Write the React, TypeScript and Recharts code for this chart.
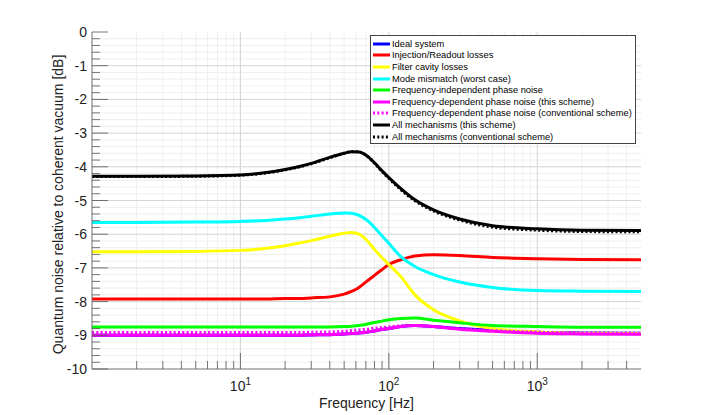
import { LineChart, Line, XAxis, YAxis, ReferenceLine, Legend } from 'recharts';

const FONT = '"Liberation Sans", Arial, Helvetica, sans-serif';

// frequency grid (Hz)
const FREQ = [1, 2, 5, 10, 15, 20, 25, 30, 40, 50, 56, 63, 71, 80, 90, 100, 120, 150, 200, 300, 500, 1000, 2000, 5000];

// quantum noise relative to coherent vacuum (dB)
const IDEAL = [-9.0, -9.0, -9.0, -9.0, -9.0, -9.0, -9.0, -8.99, -8.98, -8.96, -8.95, -8.93, -8.91, -8.87, -8.83, -8.8, -8.74, -8.71, -8.74, -8.8, -8.86, -8.91, -8.93, -8.94];
const INJECTION = [-7.92, -7.92, -7.92, -7.92, -7.92, -7.91, -7.91, -7.89, -7.86, -7.78, -7.7, -7.58, -7.4, -7.22, -7.05, -6.9, -6.76, -6.65, -6.61, -6.63, -6.69, -6.73, -6.75, -6.76];
const FILTER = [-6.52, -6.52, -6.51, -6.48, -6.42, -6.34, -6.26, -6.19, -6.06, -5.97, -5.95, -6.0, -6.18, -6.45, -6.7, -6.9, -7.25, -7.8, -8.24, -8.57, -8.8, -8.9, -8.94, -8.95];
const MISMATCH = [-5.65, -5.65, -5.64, -5.62, -5.59, -5.55, -5.51, -5.47, -5.4, -5.37, -5.38, -5.44, -5.58, -5.8, -6.05, -6.27, -6.66, -6.96, -7.2, -7.42, -7.58, -7.67, -7.69, -7.7];
const FI_PHASE = [-8.75, -8.75, -8.75, -8.75, -8.75, -8.75, -8.75, -8.75, -8.75, -8.74, -8.73, -8.71, -8.67, -8.62, -8.58, -8.54, -8.5, -8.49, -8.55, -8.63, -8.71, -8.74, -8.76, -8.76];
const FD_PHASE = [-9.0, -9.0, -9.0, -9.0, -9.0, -9.0, -9.0, -8.99, -8.98, -8.96, -8.95, -8.93, -8.91, -8.87, -8.83, -8.8, -8.74, -8.71, -8.74, -8.82, -8.88, -8.94, -8.96, -8.97];
const FD_PHASE_CONV = [-8.92, -8.92, -8.92, -8.92, -8.92, -8.92, -8.92, -8.91, -8.9, -8.88, -8.86, -8.84, -8.82, -8.79, -8.77, -8.75, -8.72, -8.71, -8.74, -8.8, -8.86, -8.91, -8.93, -8.94];
const ALL = [-4.28, -4.28, -4.27, -4.24, -4.17, -4.08, -3.99, -3.9, -3.72, -3.6, -3.55, -3.56, -3.67, -3.88, -4.12, -4.32, -4.64, -4.98, -5.28, -5.55, -5.75, -5.84, -5.88, -5.89];
const ALL_CONV = [-4.29, -4.29, -4.28, -4.25, -4.18, -4.09, -4.0, -3.91, -3.73, -3.6, -3.55, -3.56, -3.67, -3.89, -4.14, -4.34, -4.67, -5.01, -5.31, -5.58, -5.79, -5.88, -5.92, -5.93];

const X_MAJOR = [10, 100, 1000];
const X_MINOR = [2, 3, 4, 5, 6, 7, 8, 9, 20, 30, 40, 50, 60, 70, 80, 90, 200, 300, 400, 500, 600, 700, 800, 900, 2000, 3000, 4000];
const Y_MAJOR = [0, -1, -2, -3, -4, -5, -6, -7, -8, -9, -10];
const Y_MINOR: number[] = [];
for (let i = 1; i < 50; i++) if (i % 5 !== 0) Y_MINOR.push(-i / 5);

const X_TICKS = [...X_MINOR, ...X_MAJOR].sort((a, b) => a - b);
const Y_TICKS = [...Y_MAJOR, ...Y_MINOR];

const SERIES = [
  { key: 'ideal', name: 'Ideal system', values: IDEAL, color: '#0000ff', dotted: false },
  { key: 'inj', name: 'Injection/Readout losses', values: INJECTION, color: '#ff0000', dotted: false },
  { key: 'filter', name: 'Filter cavity losses', values: FILTER, color: '#ffff00', dotted: false },
  { key: 'mm', name: 'Mode mismatch (worst case)', values: MISMATCH, color: '#00ffff', dotted: false },
  { key: 'fi', name: 'Frequency-independent phase noise', values: FI_PHASE, color: '#00ff00', dotted: false },
  { key: 'fd', name: 'Frequency-dependent phase noise (this scheme)', values: FD_PHASE, color: '#ff00ff', dotted: false },
  { key: 'fdc', name: 'Frequency-dependent phase noise (conventional scheme)', values: FD_PHASE_CONV, color: '#ff00ff', dotted: true },
  { key: 'all', name: 'All mechanisms (this scheme)', values: ALL, color: '#000000', dotted: false },
  { key: 'allc', name: 'All mechanisms (conventional scheme)', values: ALL_CONV, color: '#000000', dotted: true },
];

const rows = FREQ.map((f, i) => {
  const row: Record<string, number> = { f };
  SERIES.forEach((s) => (row[s.key] = s.values[i]));
  return row;
});

const AXIS = '#6e6e6e';
const TICK = '#555';
const MAJOR_GRID = '#d4d4d4';
const MINOR_GRID = '#efefef';
const DOTS = '2 2.3';
const FS = 14;

const isMajorX = (v: number) => X_MAJOR.includes(v);
const isMajorY = (v: number) => Number.isInteger(v);

const BottomTick = ({ x, y, payload }: any) => {
  const v = payload.value;
  const major = isMajorX(v);
  return (
    <g>
      <line x1={x} x2={x} y1={y} y2={y - (major ? 16 : 8)} stroke={TICK} strokeWidth={0.8} />
      {major && (
        <text x={x} y={y + 22} textAnchor="middle" fontSize={FS} fontFamily={FONT} fill="#222">
          10<tspan dy={-6.5} fontSize={10}>{Math.round(Math.log10(v))}</tspan>
        </text>
      )}
    </g>
  );
};

const TopTick = ({ x, y, payload }: any) => {
  const major = isMajorX(payload.value);
  return <line x1={x} x2={x} y1={y} y2={y + (major ? 16 : 8)} stroke={TICK} strokeWidth={0.8} />;
};

const LeftTick = ({ x, y, payload }: any) => {
  const v = payload.value;
  const major = isMajorY(v);
  return (
    <g>
      <line x1={x} x2={x + (major ? 16 : 8)} y1={y} y2={y} stroke={TICK} strokeWidth={0.8} />
      {major && (
        <text x={x - 5} y={y + 5} textAnchor="end" fontSize={FS} fontFamily={FONT} fill="#222">
          {v}
        </text>
      )}
    </g>
  );
};

const RightTick = ({ x, y, payload }: any) => {
  const major = isMajorY(payload.value);
  return <line x1={x} x2={x - (major ? 16 : 8)} y1={y} y2={y} stroke={TICK} strokeWidth={0.8} />;
};

const LegendBox = () => (
  <div
    style={{
      background: '#fff',
      border: '1px solid #444',
      padding: '2px 0 1px 0',
      fontFamily: FONT,
      fontSize: 9.3,
      color: '#000',
      boxSizing: 'border-box',
    }}
  >
    {SERIES.map((s) => (
      <div key={s.key} style={{ display: 'flex', alignItems: 'center', height: 11.6, whiteSpace: 'nowrap' }}>
        <svg width={21} height={8} style={{ flex: 'none' }}>
          <line x1={2} x2={19} y1={4} y2={4} stroke={s.color} strokeWidth={3} strokeDasharray={s.dotted ? DOTS : undefined} />
        </svg>
        <span>{s.name}</span>
      </div>
    ))}
  </div>
);

export default function App() {
  return (
    <LineChart width={700} height={407} data={rows} margin={{ top: 24, right: 67, bottom: 0, left: 0 }}>
      <XAxis
        xAxisId="b"
        dataKey="f"
        type="number"
        scale="log"
        domain={[1, 5000]}
        allowDataOverflow
        ticks={X_TICKS}
        interval={0}
        tickLine={false}
        tickSize={0}
        tickMargin={0}
        tick={(p: any) => <BottomTick {...p} />}
        axisLine={{ stroke: AXIS }}
        height={46}
        label={{ value: 'Frequency [Hz]', position: 'insideBottom', offset: 7, style: { fontSize: FS, fontFamily: FONT, fill: '#222' } }}
      />
      <XAxis
        xAxisId="t"
        dataKey="f"
        orientation="top"
        type="number"
        scale="log"
        domain={[1, 5000]}
        allowDataOverflow
        ticks={X_TICKS}
        interval={0}
        tickLine={false}
        tickSize={0}
        tickMargin={0}
        tick={(p: any) => <TopTick {...p} />}
        axisLine={{ stroke: AXIS }}
        height={0}
      />
      <YAxis
        yAxisId="l"
        type="number"
        domain={[-10, 0]}
        allowDataOverflow
        ticks={Y_TICKS}
        interval={0}
        tickLine={false}
        tickSize={0}
        tickMargin={0}
        tick={(p: any) => <LeftTick {...p} />}
        axisLine={{ stroke: AXIS }}
        width={84}
        label={{
          value: 'Quantum noise relative to coherent vacuum [dB]',
          angle: -90,
          position: 'center',
          dx: 8,
          dy: 4,
          style: { fontSize: FS, fontFamily: FONT, fill: '#222', textAnchor: 'middle' },
        }}
      />
      <YAxis
        yAxisId="r"
        orientation="right"
        type="number"
        domain={[-10, 0]}
        allowDataOverflow
        ticks={Y_TICKS}
        interval={0}
        tickLine={false}
        tickSize={0}
        tickMargin={0}
        tick={(p: any) => <RightTick {...p} />}
        axisLine={{ stroke: AXIS }}
        width={0}
      />

      {X_MINOR.map((v) => (
        <ReferenceLine key={`xm${v}`} xAxisId="b" yAxisId="l" x={v} stroke={MINOR_GRID} strokeWidth={1} />
      ))}
      {Y_MINOR.map((v) => (
        <ReferenceLine key={`ym${v}`} xAxisId="b" yAxisId="l" y={v} stroke={MINOR_GRID} strokeWidth={1} />
      ))}
      {X_MAJOR.map((v) => (
        <ReferenceLine key={`xM${v}`} xAxisId="b" yAxisId="l" x={v} stroke={MAJOR_GRID} strokeWidth={1} />
      ))}
      {Y_MAJOR.slice(1, -1).map((v) => (
        <ReferenceLine key={`yM${v}`} xAxisId="b" yAxisId="l" y={v} stroke={MAJOR_GRID} strokeWidth={1} />
      ))}

      {SERIES.map((s) => (
        <Line
          key={s.key}
          xAxisId="b"
          yAxisId="l"
          dataKey={s.key}
          name={s.name}
          type="monotone"
          stroke={s.color}
          strokeWidth={3}
          strokeDasharray={s.dotted ? DOTS : undefined}
          dot={false}
          activeDot={false}
          isAnimationActive={false}
        />
      ))}

      <Legend
        layout="vertical"
        align="center"
        verticalAlign="middle"
        wrapperStyle={{ left: 362, top: 27, width: 266, right: 'auto', bottom: 'auto' }}
        content={() => <LegendBox />}
      />
    </LineChart>
  );
}
